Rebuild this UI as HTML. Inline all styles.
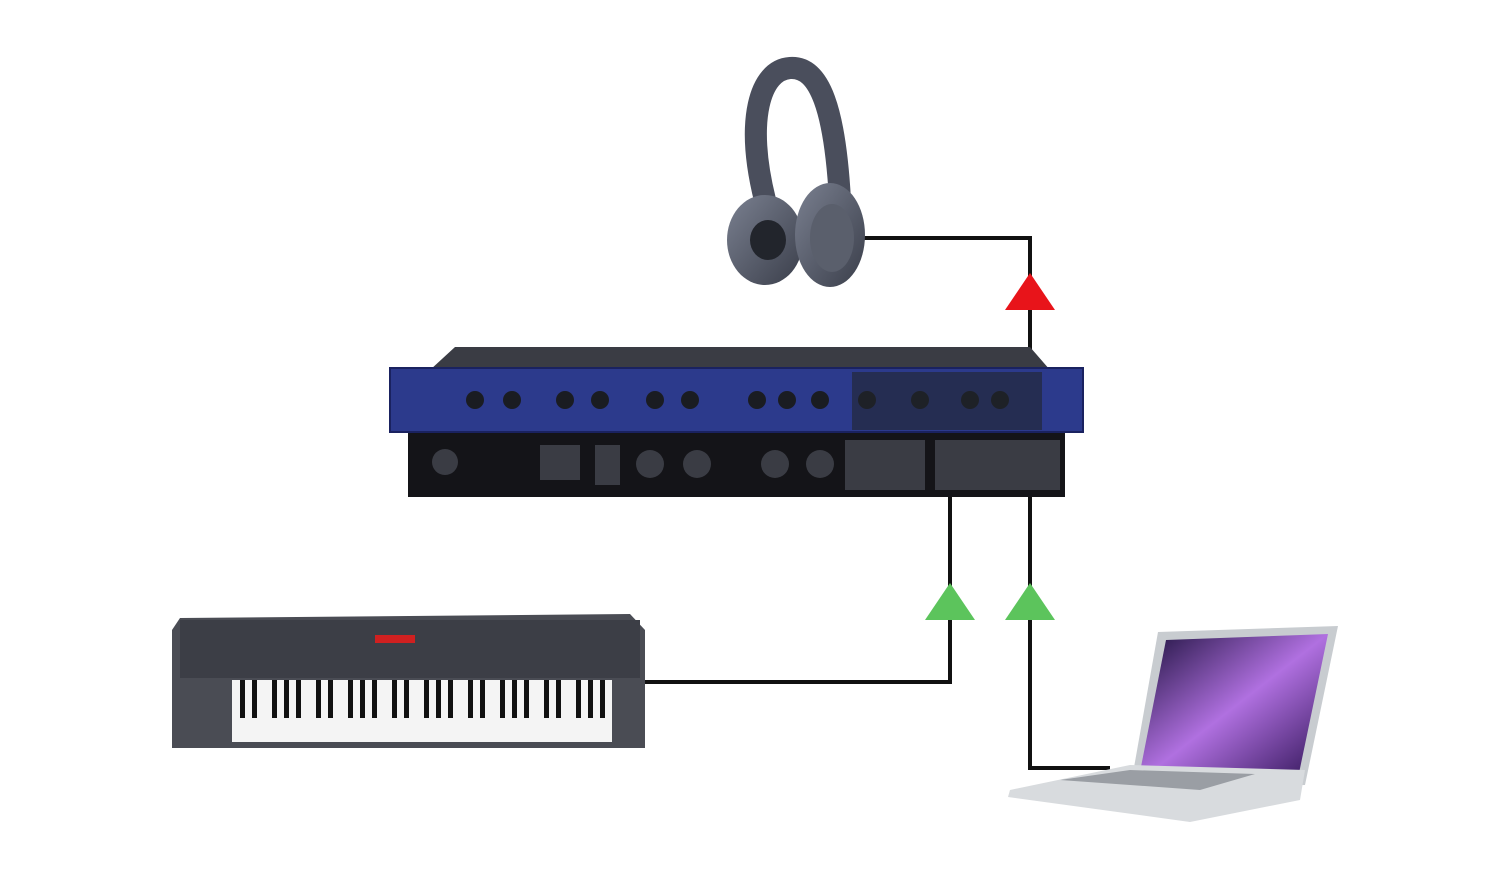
<!DOCTYPE html>
<html><head><meta charset="utf-8"><style>
html,body{margin:0;padding:0;background:#fff;width:1500px;height:888px;overflow:hidden}
</style></head><body>
<svg width="1500" height="888" viewBox="0 0 1500 888" xmlns="http://www.w3.org/2000/svg">
<defs>
<linearGradient id="scr" x1="0" y1="0" x2="1" y2="1">
<stop offset="0" stop-color="#1a0f3a"/><stop offset="0.5" stop-color="#b070e0"/><stop offset="1" stop-color="#2a1050"/>
</linearGradient>
<linearGradient id="hp" x1="0" y1="0" x2="1" y2="1">
<stop offset="0" stop-color="#7a8090"/><stop offset="1" stop-color="#3a3e4a"/>
</linearGradient>
</defs>
<!-- connectors -->
<g stroke="#111" stroke-width="4" fill="none">
<polyline points="862,238 1030,238 1030,300"/>
<polyline points="1030,310 1030,497"/>
<polyline points="950,497 950,682 645,682"/>
<polyline points="1030,497 1030,768 1110,768"/>
</g>
<polygon points="1030,273 1055,310 1005,310" fill="#e8141a"/>
<polygon points="950,583 975,620 925,620" fill="#5cc45c"/>
<polygon points="1030,583 1055,620 1005,620" fill="#5cc45c"/>
<!-- headphones -->
<path d="M765,200 C745,120 760,70 790,68 C820,66 835,110 840,200" stroke="#4a4e5c" stroke-width="22" fill="none"/>
<ellipse cx="765" cy="240" rx="38" ry="45" fill="url(#hp)"/>
<ellipse cx="768" cy="240" rx="18" ry="20" fill="#22252c"/>
<ellipse cx="830" cy="235" rx="35" ry="52" fill="url(#hp)"/>
<ellipse cx="832" cy="238" rx="22" ry="34" fill="#5a5f6c"/>
<!-- rack top bevel -->
<polygon points="430,370 455,347 1030,347 1050,370" fill="#3a3c44"/>
<!-- front panel -->
<rect x="390" y="368" width="693" height="64" fill="#2c3a8c"/>
<rect x="390" y="368" width="693" height="64" fill="none" stroke="#1a2260" stroke-width="2"/>
<g fill="#1a1c22">
<circle cx="475" cy="400" r="9"/><circle cx="512" cy="400" r="9"/><circle cx="565" cy="400" r="9"/>
<circle cx="600" cy="400" r="9"/><circle cx="655" cy="400" r="9"/><circle cx="690" cy="400" r="9"/>
<circle cx="757" cy="400" r="9"/><circle cx="787" cy="400" r="9"/><circle cx="820" cy="400" r="9"/>
<circle cx="867" cy="400" r="9"/><circle cx="920" cy="400" r="9"/><circle cx="970" cy="400" r="9"/>
<circle cx="1000" cy="400" r="9"/>
</g>
<rect x="852" y="372" width="190" height="58" fill="#22242c" opacity="0.6"/>
<!-- rear panel -->
<rect x="408" y="433" width="657" height="64" fill="#141418"/>
<g fill="#3a3c44">
<circle cx="445" cy="462" r="13"/><circle cx="650" cy="464" r="14"/><circle cx="697" cy="464" r="14"/>
<circle cx="775" cy="464" r="14"/><circle cx="820" cy="464" r="14"/>
<rect x="540" y="445" width="40" height="35"/><rect x="595" y="445" width="25" height="40"/>
<rect x="845" y="440" width="80" height="50"/><rect x="935" y="440" width="125" height="50"/>
</g>
<!-- keyboard -->
<polygon points="180,618 630,614 645,630 645,748 172,748 172,630" fill="#4a4c54"/>
<rect x="180" y="620" width="460" height="58" fill="#3c3e46"/>
<rect x="375" y="635" width="40" height="8" fill="#d02020"/>
<rect x="232" y="680" width="380" height="62" fill="#f4f4f4"/>
<g fill="#111">
<rect x="240" y="680" width="5" height="38"/><rect x="252" y="680" width="5" height="38"/><rect x="272" y="680" width="5" height="38"/><rect x="284" y="680" width="5" height="38"/><rect x="296" y="680" width="5" height="38"/>
<rect x="316" y="680" width="5" height="38"/><rect x="328" y="680" width="5" height="38"/><rect x="348" y="680" width="5" height="38"/><rect x="360" y="680" width="5" height="38"/><rect x="372" y="680" width="5" height="38"/>
<rect x="392" y="680" width="5" height="38"/><rect x="404" y="680" width="5" height="38"/><rect x="424" y="680" width="5" height="38"/><rect x="436" y="680" width="5" height="38"/><rect x="448" y="680" width="5" height="38"/>
<rect x="468" y="680" width="5" height="38"/><rect x="480" y="680" width="5" height="38"/><rect x="500" y="680" width="5" height="38"/><rect x="512" y="680" width="5" height="38"/><rect x="524" y="680" width="5" height="38"/>
<rect x="544" y="680" width="5" height="38"/><rect x="556" y="680" width="5" height="38"/><rect x="576" y="680" width="5" height="38"/><rect x="588" y="680" width="5" height="38"/><rect x="600" y="680" width="5" height="38"/>
</g>
<!-- laptop -->
<polygon points="1158,632 1338,626 1305,785 1130,790" fill="#c8ccd0"/>
<polygon points="1166,640 1328,634 1298,778 1138,782" fill="url(#scr)"/>
<polygon points="1010,790 1130,765 1305,770 1300,800 1190,822 1008,797" fill="#d8dbde"/>
<polygon points="1060,780 1130,770 1255,774 1200,790" fill="#9a9ea4"/>
</svg>
</body></html>
